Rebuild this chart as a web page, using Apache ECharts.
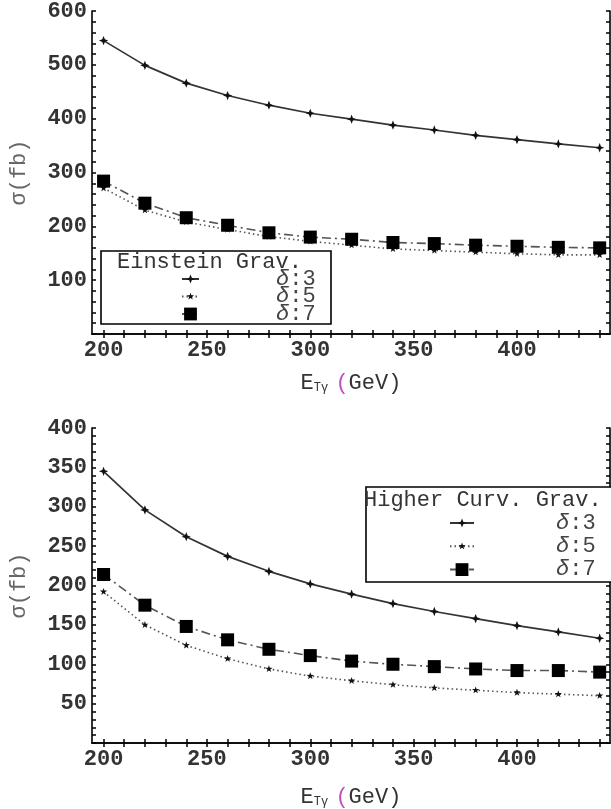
<!DOCTYPE html>
<html>
<head>
<meta charset="utf-8">
<script src="https://cdn.jsdelivr.net/npm/echarts@6/dist/echarts.min.js"></script>
<style>
html,body{margin:0;padding:0;background:#fff;}
#c{width:611px;height:809px;}
</style>
</head>
<body>
<div id="c"></div>
<script>
// ---- data ----
const energies = [200, 220, 240, 260, 280, 300, 320, 340, 360, 380, 400, 420, 440];
const einsteinD3 = [545, 499, 466, 443, 425, 410, 399, 388, 379, 369, 361, 353, 346];
const einsteinD5 = [271, 230, 208, 194, 181, 172, 165, 158, 155, 152, 149, 147, 147];
const einsteinD7 = [284, 243, 216, 202, 188, 180, 176, 170, 168, 165, 163, 161, 160];
const higherD3 = [345, 296, 262, 237, 218, 202, 189, 177, 167, 158, 149, 141, 133];
const higherD5 = [192, 150, 124, 107, 94, 85, 79, 74, 70, 67, 64, 62, 60];
const higherD7 = [214, 175, 148, 131, 119, 111, 104, 100, 97, 94, 92, 92, 90];

const xLabelValues = [200, 250, 300, 350, 400];
const xTickValues = [200, 210, 220, 230, 240, 250, 260, 270, 280, 290, 300, 310, 320, 330, 340, 350, 360, 370, 380, 390, 400, 410, 420, 430, 440];
const topYLabelValues = [100, 200, 300, 400, 500, 600];
const topYTickValues = [0,20,40,60,80,100,120,140,160,180,200,220,240,260,280,300,320,340,360,380,400,420,440,460,480,500,520,540,560,580,600];
const botYLabelValues = [50, 100, 150, 200, 250, 300, 350, 400];
const botYTickValues = [0,10,20,30,40,50,60,70,80,90,100,110,120,130,140,150,160,170,180,190,200,210,220,230,240,250,260,270,280,290,300,310,320,330,340,350,360,370,380,390,400];

const topLegendTitle = 'Einstein Grav.';
const botLegendTitle = 'Higher Curv. Grav.';
const deltaLabels = ['δ:3', 'δ:5', 'δ:7'];

// ---- styles ----
const FONT = '"Liberation Mono", "DejaVu Sans Mono", monospace';
const diamondStar = 'path://M-1.4,-1.4 M1.4,1.4 M0,-1 L0.28,-0.28 L1,0 L0.28,0.28 L0,1 L-0.28,0.28 L-1,0 L-0.28,-0.28 Z';
const star5 = 'path://M-1.7,-1.7 M1.7,1.7 M0,-1 L0.235,-0.324 L0.951,-0.309 L0.38,0.124 L0.588,0.809 L0,0.4 L-0.588,0.809 L-0.38,0.124 L-0.951,-0.309 L-0.235,-0.324 Z';

const styles = {
  d3: {symbol: diamondStar, symbolSize: 13, lineStyle: {color: '#333', width: 1.7, type: 'solid'}, itemStyle: {color: '#111'}},
  d5: {symbol: star5, symbolSize: 13, lineStyle: {color: '#555', width: 1.6, type: [1.5, 3]}, itemStyle: {color: '#111'}},
  d7: {symbol: 'rect', symbolSize: 13, lineStyle: {color: '#555', width: 1.6, type: [9, 4, 2, 4]}, itemStyle: {color: '#000'}}
};

function mkSeries(name, key, values, idx) {
  const s = styles[key];
  return {
    name: name, type: 'line', xAxisIndex: idx, yAxisIndex: idx,
    data: energies.map((x, i) => [x, values[i]]),
    symbol: s.symbol, symbolSize: s.symbolSize,
    lineStyle: s.lineStyle, itemStyle: s.itemStyle,
    showSymbol: true, animation: false, silent: true, clip: false
  };
}

const lineAx = {lineStyle: {color: '#000', width: 1.6}};
function xAxisDef(grid, pos, labels, gap) {
  return {
    type: 'value', gridIndex: grid, position: pos, min: 194.4, max: 445,
    axisLine: lineAx,
    axisTick: {show: true, inside: true, length: 4, customValues: xTickValues, lineStyle: {color: '#000', width: 1.5}},
    axisLabel: labels ? {show: true, customValues: xLabelValues, fontFamily: FONT, fontSize: 22, fontWeight: 'bold', color: '#333', margin: 5} : {show: false},
    splitLine: {show: false},
    name: labels ? '{e|E}{s|Tγ} {p|(}{g|GeV)}' : '',
    nameLocation: 'middle', nameGap: gap,
    nameTextStyle: {
      fontFamily: FONT, color: '#333',
      rich: {
        e: {fontFamily: FONT, fontSize: 22, color: '#333', lineHeight: 24},
        s: {fontFamily: FONT, fontSize: 12, color: '#333', lineHeight: 24, padding: [10, 0, 0, 0]},
        p: {fontFamily: FONT, fontSize: 22, color: '#c050c0', lineHeight: 24},
        g: {fontFamily: FONT, fontSize: 22, color: '#333', lineHeight: 24}
      }
    }
  };
}
function yAxisDef(grid, pos, max, ticks, labels) {
  return {
    type: 'value', gridIndex: grid, position: pos, min: 0, max: max,
    axisLine: lineAx,
    axisTick: {show: true, inside: true, length: 4, customValues: ticks, lineStyle: {color: '#000', width: 1.5}},
    axisLabel: labels ? {show: true, customValues: labels, fontFamily: FONT, fontSize: 22, fontWeight: 'bold', color: '#333', margin: 5} : {show: false},
    splitLine: {show: false},
    name: labels ? 'σ(fb)' : '',
    nameLocation: 'middle', nameGap: 62, nameRotate: 90,
    nameTextStyle: {fontFamily: FONT, fontSize: 22, color: '#666'}
  };
}

function legendDef(names, left, top, itemW, gap, padLeft) {
  return {
    data: names, orient: 'vertical', left: left, top: top, padding: 0,
    itemWidth: itemW, itemHeight: 16, itemGap: gap,
    selectedMode: false,
    formatter: n => {
      const lab = deltaLabels[names.indexOf(n)];
      return '{d|' + lab.charAt(0) + '}{n|' + lab.slice(1) + '}';
    },
    textStyle: {
      lineHeight: 16,
      rich: {
        d: {fontFamily: FONT, fontSize: 22, fontStyle: 'italic', color: '#444', lineHeight: 16, padding: [0, 0, 0, padLeft]},
        n: {fontFamily: FONT, fontSize: 22, color: '#444', lineHeight: 16}
      }
    }
  };
}

const topNames = ['Einstein δ:3', 'Einstein δ:5', 'Einstein δ:7'];
const botNames = ['Higher δ:3', 'Higher δ:5', 'Higher δ:7'];

const option = {
  backgroundColor: '#fff',
  animation: false,
  grid: [
    {left: 88, top: 11, width: 522, height: 323},
    {left: 88, top: 428, width: 522, height: 321}
  ],
  xAxis: [
    xAxisDef(0, 'bottom', true, 37), xAxisDef(0, 'top', false, 0),
    xAxisDef(1, 'bottom', true, 42), xAxisDef(1, 'top', false, 0)
  ],
  yAxis: [
    yAxisDef(0, 'left', 600, topYTickValues, topYLabelValues), yAxisDef(0, 'right', 600, topYTickValues, null),
    yAxisDef(1, 'left', 400, botYTickValues, botYLabelValues), yAxisDef(1, 'right', 400, botYTickValues, null)
  ],
  legend: [
    legendDef(topNames, 181, 268, 17, -4.5, 72),
    legendDef(botNames, 449, 512, 24, 1.3, 77)
  ],
  graphic: [
    {type: 'rect', shape: {x: 101, y: 251, width: 230, height: 73}, style: {fill: '#fff', stroke: '#000', lineWidth: 1.6}, z: 3},
    {type: 'text', x: 117, y: 262, style: {text: topLegendTitle, font: '22px ' + FONT, fill: '#333', textVerticalAlign: 'middle'}, z: 3},
    {type: 'rect', shape: {x: 366, y: 487, width: 260, height: 95}, style: {fill: '#fff', stroke: '#000', lineWidth: 1.6}, z: 3},
    {type: 'text', x: 364, y: 500, style: {text: botLegendTitle, font: '22px ' + FONT, fill: '#333', textVerticalAlign: 'middle'}, z: 3}
  ],
  series: [
    mkSeries(topNames[0], 'd3', einsteinD3, 0),
    mkSeries(topNames[1], 'd5', einsteinD5, 0),
    mkSeries(topNames[2], 'd7', einsteinD7, 0),
    mkSeries(botNames[0], 'd3', higherD3, 2),
    mkSeries(botNames[1], 'd5', higherD5, 2),
    mkSeries(botNames[2], 'd7', higherD7, 2)
  ]
};
const chart = echarts.init(document.getElementById('c'), null, {renderer: 'canvas'});
chart.setOption(option);
</script>
</body>
</html>
